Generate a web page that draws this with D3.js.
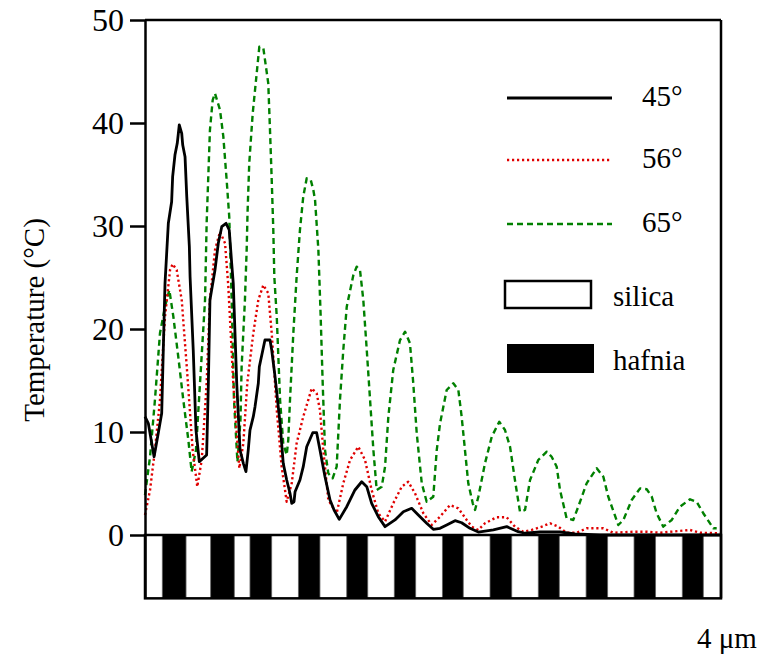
<!DOCTYPE html>
<html><head><meta charset="utf-8">
<script src="https://cdn.jsdelivr.net/npm/d3@7"></script>
<style>body{margin:0;background:#fff}svg{display:block}text{font-family:"Liberation Serif","DejaVu Serif",serif;fill:#000}</style>
</head><body><svg id="c" width="761" height="657"></svg>
<script>
// ---- data ----
const yTicks = [0, 10, 20, 30, 40, 50];
const seriesNames = ["45°", "56°", "65°"];
const materialNames = ["silica", "hafnia"];
const xLabel = "4 μm";
const yLabel = "Temperature (°C)";
// hafnia layer extents in μm (silica fills the remainder)
const hafniaLayers = [[0.120,0.285],[0.456,0.620],[0.729,0.880],[1.065,1.215],[1.401,1.547],[1.731,1.880],[2.065,2.210],[2.396,2.547],[2.731,2.877],[3.063,3.213],[3.396,3.546],[3.731,3.877]];
// temperature profiles [depth μm, °C]
const temp45 = [[0,11.49],[0.023,10.84],[0.063,7.6],[0.092,9.87],[0.116,11.82],[0.127,17.96],[0.139,24.44],[0.162,30.26],[0.185,32.36],[0.192,34.79],[0.208,36.89],[0.224,38.03],[0.238,39.81],[0.255,39.0],[0.262,37.86],[0.278,36.73],[0.29,32.85],[0.308,27.99],[0.313,25.08],[0.335,17.96],[0.354,10.19],[0.377,7.12],[0.428,7.77],[0.44,14.73],[0.451,22.82],[0.486,25.73],[0.509,28.32],[0.533,29.93],[0.563,30.26],[0.585,29.61],[0.602,26.38],[0.613,24.44],[0.637,14.73],[0.66,8.25],[0.683,6.96],[0.701,6.15],[0.717,8.25],[0.729,10.19],[0.752,11.49],[0.764,12.46],[0.787,14.73],[0.794,16.34],[0.833,18.93],[0.868,18.93],[0.88,17.96],[0.903,15.37],[0.938,10.84],[0.96,6.96],[0.984,5.34],[1.007,4.05],[1.019,3.08],[1.035,3.23],[1.042,4.2],[1.076,5.34],[1.099,6.63],[1.123,8.57],[1.165,9.93],[1.192,9.93],[1.215,8.25],[1.25,5.66],[1.285,3.4],[1.313,2.43],[1.349,1.52],[1.401,2.75],[1.424,3.4],[1.458,4.37],[1.505,5.17],[1.54,4.69],[1.574,3.08],[1.62,1.78],[1.667,0.81],[1.736,1.46],[1.794,2.26],[1.852,2.59],[1.898,1.94],[1.956,1.14],[2.002,0.55],[2.049,0.65],[2.095,0.97],[2.153,1.39],[2.199,1.19],[2.257,0.65],[2.315,0.29],[2.419,0.49],[2.512,0.81],[2.592,0.32],[2.639,0.17],[2.743,0.29],[2.882,0.29],[2.986,0.1],[3.16,0],[4.0,0]];
const temp56 = [[0,1.94],[0.035,4.37],[0.069,8.25],[0.104,13.11],[0.139,21.19],[0.174,25.73],[0.192,26.31],[0.22,25.73],[0.255,22.82],[0.29,16.34],[0.331,8.25],[0.363,4.69],[0.394,7.28],[0.428,14.73],[0.451,22.82],[0.486,27.67],[0.521,29.45],[0.556,28.32],[0.578,24.27],[0.613,14.73],[0.637,9.87],[0.655,6.48],[0.683,8.9],[0.71,14.73],[0.752,19.58],[0.787,22.82],[0.822,24.27],[0.856,23.47],[0.88,19.58],[0.915,12.14],[0.949,6.63],[0.984,3.23],[1.019,5.02],[1.053,8.9],[1.099,11.49],[1.158,14.24],[1.192,13.76],[1.215,12.14],[1.238,8.25],[1.273,3.4],[1.331,2.11],[1.377,5.02],[1.424,7.28],[1.481,8.57],[1.528,7.28],[1.574,4.37],[1.62,2.11],[1.667,1.29],[1.724,3.08],[1.783,4.69],[1.828,5.17],[1.875,4.05],[1.933,2.11],[1.991,0.97],[2.049,1.78],[2.118,2.91],[2.176,2.59],[2.234,1.46],[2.269,0.81],[2.315,0.49],[2.361,1.14],[2.442,1.72],[2.512,1.72],[2.569,0.81],[2.627,0.32],[2.685,0.49],[2.755,0.81],[2.813,1.14],[2.87,0.81],[2.928,0.22],[2.998,0.22],[3.067,0.65],[3.183,0.65],[3.252,0.22],[3.391,0.32],[3.484,0.32],[3.576,0.22],[3.785,0.49],[3.854,0.22],[3.993,0.17]];
const temp65 = [[0,3.88],[0.035,7.6],[0.069,13.11],[0.104,19.58],[0.139,22.17],[0.169,23.79],[0.197,21.19],[0.231,17.31],[0.266,13.11],[0.301,9.22],[0.324,6.15],[0.354,8.25],[0.382,14.73],[0.417,22.82],[0.428,30.26],[0.451,39.32],[0.47,42.23],[0.486,42.88],[0.521,41.26],[0.544,38.67],[0.567,34.47],[0.585,30.9],[0.602,22.82],[0.618,13.11],[0.642,7.09],[0.663,11.17],[0.671,16.34],[0.694,22.82],[0.706,27.67],[0.712,31.26],[0.724,36.09],[0.748,40.94],[0.771,44.17],[0.794,47.41],[0.822,47.25],[0.856,43.85],[0.868,39.32],[0.88,34.47],[0.891,29.61],[0.898,25.08],[0.915,21.19],[0.938,13.11],[0.96,8.9],[0.984,7.77],[0.995,9.22],[1.007,13.11],[1.03,19.58],[1.053,25.08],[1.076,29.61],[1.099,32.85],[1.123,34.63],[1.151,34.47],[1.169,33.5],[1.181,32.52],[1.204,27.67],[1.22,21.19],[1.234,14.73],[1.25,8.25],[1.273,5.99],[1.303,5.5],[1.331,6.63],[1.354,13.11],[1.377,17.96],[1.401,22.17],[1.447,25.24],[1.47,26.05],[1.493,25.73],[1.516,22.82],[1.54,17.96],[1.563,13.11],[1.586,8.25],[1.609,4.37],[1.644,4.69],[1.667,6.63],[1.69,11.49],[1.724,16.02],[1.771,18.93],[1.806,19.74],[1.84,18.61],[1.863,14.73],[1.887,9.87],[1.922,5.02],[1.956,3.23],[2.002,3.72],[2.026,8.25],[2.049,10.84],[2.095,14.08],[2.141,14.73],[2.176,14.08],[2.199,11.49],[2.222,8.25],[2.245,5.02],[2.276,3.08],[2.292,2.43],[2.315,3.72],[2.361,6.96],[2.408,9.54],[2.46,11.0],[2.5,10.19],[2.535,8.57],[2.569,5.34],[2.604,2.26],[2.639,2.43],[2.674,5.34],[2.731,7.28],[2.79,8.09],[2.824,7.6],[2.859,6.63],[2.882,4.37],[2.928,1.62],[2.974,1.46],[3.009,2.75],[3.067,5.02],[3.137,6.48],[3.183,5.66],[3.217,3.72],[3.287,0.97],[3.322,1.46],[3.38,3.4],[3.438,4.53],[3.484,4.44],[3.519,3.72],[3.553,2.11],[3.599,0.81],[3.658,1.46],[3.715,2.75],[3.785,3.47],[3.831,3.23],[3.877,2.11],[3.947,0.65],[3.97,0.65]];
const seriesData = [temp45, temp56, temp65];
const seriesColors = ["#000000", "#e00000", "#008000"];
const seriesDash = [null, "2.2,2.8", "6,4"];

// ---- layout ----
const svg = d3.select("#c");
const x = d3.scaleLinear().domain([0, 4]).range([145, 721]);
const y = d3.scaleLinear().domain([0, 50]).range([535, 20]);
const yBottom = -6.15;
const serif = '"Liberation Serif","DejaVu Serif",serif';

// stack of layers
svg.append("rect").attr("x", x(0)).attr("y", y(0)).attr("width", x(4) - x(0)).attr("height", y(yBottom) - y(0))
  .attr("fill", "#fff");
svg.append("g").selectAll("rect").data(hafniaLayers).join("rect")
  .attr("x", d => x(d[0])).attr("width", d => x(d[1]) - x(d[0]))
  .attr("y", y(0)).attr("height", y(yBottom) - y(0))
  .attr("fill", "#000").attr("stroke", "#666").attr("stroke-width", 0.8);
svg.append("rect").attr("x", x(0)).attr("y", y(0)).attr("width", x(4) - x(0)).attr("height", y(yBottom) - y(0))
  .attr("fill", "none").attr("stroke", "#000").attr("stroke-width", 2.5);

// curves
const line = d3.line().x(d => x(d[0])).y(d => y(d[1]));
[2, 1, 0].forEach(i => {
  svg.append("path").datum(seriesData[i]).attr("d", line)
    .attr("fill", "none").attr("stroke", seriesColors[i])
    .attr("stroke-width", i === 0 ? 2.8 : 2.4)
    .attr("stroke-dasharray", seriesDash[i])
    .attr("stroke-linejoin", "round");
});

// frame
svg.append("line").attr("x1", x(0)).attr("x2", x(4)).attr("y1", y(50)).attr("y2", y(50)).attr("stroke", "#000").attr("stroke-width", 2.5);
svg.append("line").attr("x1", x(4)).attr("x2", x(4)).attr("y1", y(50)).attr("y2", y(yBottom)).attr("stroke", "#000").attr("stroke-width", 2.5);

// y axis
const yAxisScale = y.copy().domain([yBottom, 50]).range([y(yBottom), 20]);
const yAxis = svg.append("g").attr("transform", `translate(${x(0)},0)`)
  .call(d3.axisLeft(yAxisScale).tickValues(yTicks).tickSize(15).tickSizeOuter(0).tickPadding(6));
yAxis.attr("font-family", serif);
yAxis.select(".domain").attr("stroke-width", 2.5);
yAxis.selectAll(".tick line").attr("stroke-width", 2.5);
yAxis.selectAll(".tick text").style("font-size", "32px").style("font-family", serif).attr("fill", "#000");

svg.append("text").attr("transform", "translate(34,320) rotate(-90)")
  .attr("text-anchor", "middle").attr("dy", "0.35em").style("font-size", "29px").style("font-family", serif).text(yLabel);
svg.append("text").attr("x", 697).attr("y", 648).style("font-size", "29px").style("font-family", serif).text(xLabel);

// legend
const legY = [98, 160, 224];
const leg = svg.append("g");
seriesNames.forEach((n, i) => {
  leg.append("line").attr("x1", 507).attr("x2", 612).attr("y1", legY[i]).attr("y2", legY[i])
    .attr("stroke", seriesColors[i]).attr("stroke-width", i === 0 ? 2.8 : 2.6)
    .attr("stroke-dasharray", seriesDash[i]);
  leg.append("text").attr("x", 642).attr("y", legY[i] + 8).style("font-size", "29px").style("font-family", serif).text(n);
});
leg.append("rect").attr("x", 505).attr("y", 281).attr("width", 86).attr("height", 27)
  .attr("fill", "#fff").attr("stroke", "#000").attr("stroke-width", 2.5);
leg.append("text").attr("x", 613).attr("y", 306).style("font-size", "29px").style("font-family", serif).text(materialNames[0]);
leg.append("rect").attr("x", 507).attr("y", 344).attr("width", 87).attr("height", 29)
  .attr("fill", "#000");
leg.append("text").attr("x", 613).attr("y", 370).style("font-size", "29px").style("font-family", serif).text(materialNames[1]);
</script></body></html>
